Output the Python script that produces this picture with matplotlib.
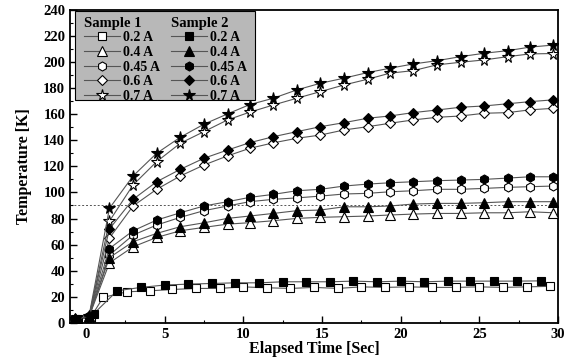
import numpy as np
import matplotlib
matplotlib.use("Agg")
import matplotlib.pyplot as plt
from matplotlib.patches import Rectangle

plt.rcParams['font.family'] = ['Liberation Serif', 'DejaVu Serif']
plt.rcParams['font.weight'] = 'bold'

# Data
t_main = [-0.7, 0.2, 1.5, 3.0, 4.5, 6.0, 7.5, 9.0, 10.4, 11.9, 13.4, 14.9,
          16.4, 17.9, 19.3, 20.8, 22.3, 23.8, 25.3, 26.8, 28.2, 29.7]
t_sq2 = [-0.5, 0.5, 2.0, 3.5, 5.0, 6.5, 8.0, 9.5, 11.0, 12.5, 14.0, 15.5,
         17.0, 18.5, 20.0, 21.5, 23.0, 24.4, 25.9, 27.4, 28.9]
t_sq1 = [-0.7, 0.3, 1.1, 2.6, 4.1, 5.5, 7.0, 8.5, 10.0, 11.5, 13.0, 14.5,
         16.0, 17.5, 19.0, 20.5, 22.0, 23.5, 25.0, 26.5, 28.0, 29.5]

s1_02 = [3, 4, 19.5, 23.8, 24.6, 25.6, 26.4, 26.4, 27.6, 26.9, 26.4, 27.2,
         26.4, 27.6, 27.2, 27.6, 27.2, 27.2, 27.6, 27.2, 27.6, 28.0]
s1_04 = [3, 4.5, 46, 58.3, 65.5, 70.6, 73.2, 75.7, 76.8, 78.3, 80.1, 80.9,
         81.4, 81.9, 82.7, 83.4, 83.9, 83.9, 84.4, 84.4, 85.2, 84.4]
s1_045 = [3, 4.5, 52, 67.3, 75, 80.9, 86, 89.6, 92.9, 94.7, 95.8, 97.2,
          98.8, 99.3, 100.5, 101.3, 102.4, 102.4, 103.1, 103.9, 104.4, 104.9]
s1_06 = [3, 4.5, 65, 89.6, 102.4, 112.6, 121, 128, 133.8, 138, 141.5, 144,
         147.9, 150.4, 153, 155.6, 157.6, 158.6, 160.7, 161.2, 163.3, 164.5]
s1_07 = [3, 4.5, 78, 105.7, 123.6, 137.7, 146.6, 155.6, 161.5, 167, 172.2, 177.3,
         182.4, 186.8, 191.4, 193.4, 197.8, 199.8, 201.6, 204.1, 206.2, 206.5]

s2_02 = [3, 7, 24.6, 27.2, 29.0, 29.7, 30.2, 30.7, 30.7, 31.5, 31.5,
         31.5, 32.0, 31.5, 32.0, 31.5, 32.0, 32.0, 32.0, 32.0, 32.2]
s2_04 = [3, 5, 50, 62.2, 68.6, 73.7, 76.7, 80.1, 81.9, 83.9, 86, 86.5,
         89, 89, 89.6, 91.1, 91.6, 91.6, 92.1, 92.9, 92.9, 92.9]
s2_045 = [3, 5, 57, 70.6, 78.8, 84.4, 89.6, 92.9, 96.2, 98.5, 101.3, 102.4,
          104.9, 106.4, 107.4, 108.2, 109, 109.5, 110, 111, 112, 112]
s2_06 = [3, 5, 72, 94.7, 108.2, 117.7, 126.2, 132.5, 138.1, 142.7, 146.6, 150.4,
         153.5, 156.9, 158.6, 161.2, 163.2, 165.3, 166.3, 168, 169.6, 171]
s2_07 = [3, 5, 87.8, 112.6, 130, 142.3, 152.3, 160.2, 167.3, 172.2, 178.6, 183.7,
         187.6, 191.9, 195.2, 198.5, 201, 204.1, 206.7, 208.7, 211.4, 213]

labels = ["0.2 A", "0.4 A", "0.45 A", "0.6 A", "0.7 A"]
markers = ["s", "^", "h", "D", "*"]
sizes = [5.5, 6.5, 6.5, 5.5, 8.5]

sample1 = [(t_sq1, s1_02), (t_main, s1_04), (t_main, s1_045), (t_main, s1_06), (t_main, s1_07)]
sample2 = [(t_sq2, s2_02), (t_main, s2_04), (t_main, s2_045), (t_main, s2_06), (t_main, s2_07)]

fig = plt.figure(figsize=(5.79, 3.64), dpi=100)
ax = fig.add_axes([0.121, 0.113, 0.843, 0.86])

ax.axhline(90, color='#555555', ls=(0, (2, 2)), lw=0.7, zorder=1)

h1, h2 = [], []
for (t, y), lab, m, ms in zip(sample1, labels, markers, sizes):
    l, = ax.plot(t, y, color='#555555', lw=0.8, marker=m, ms=ms,
                 mfc='white', mec='black', mew=0.8, label=lab, zorder=3)
    h1.append(l)
for (t, y), lab, m, ms in zip(sample2, labels, markers, sizes):
    l, = ax.plot(t, y, color='#555555', lw=0.8, marker=m, ms=ms,
                 mfc='black', mec='black', mew=0.8, label=lab, zorder=3)
    h2.append(l)

ax.set_xlim(-1, 29.85)
ax.set_ylim(0, 240)
ax.set_xticks(np.arange(0, 31, 5))
ax.set_xticks(np.arange(0, 30, 2.5), minor=True)
ax.set_yticks(np.arange(0, 241, 20))
ax.set_yticks(np.arange(0, 241, 10), minor=True)
ax.tick_params(which='both', direction='in', labelsize=10.5)
ax.tick_params(which='major', length=5, width=1)
ax.tick_params(which='minor', length=2.5, width=0.8)
for sp in ax.spines.values():
    sp.set_linewidth(1.3)

ax.set_xlabel("Elapsed Time [Sec]", fontsize=11.5, fontweight='bold', labelpad=0)
ax.set_ylabel("Temperature [K]", fontsize=11.5, fontweight='bold', labelpad=8)

# gray legend box
ax.add_patch(Rectangle((0.01, 0.712), 0.369, 0.283, transform=ax.transAxes,
                       facecolor='#b8b8b8', edgecolor='black', lw=0.8, zorder=4))
leg_kw = dict(frameon=False, fontsize=10, handlelength=2.6, handletextpad=0.2,
              labelspacing=0.12, borderpad=0.1, alignment='left',
              title_fontproperties={'weight': 'bold', 'size': 10.5})
leg1 = ax.legend(handles=h1, title="Sample 1", loc='upper left',
                 bbox_to_anchor=(0.012, 1.005), **leg_kw)
leg1.set_zorder(5)
ax.add_artist(leg1)
leg2 = ax.legend(handles=h2, title="Sample 2", loc='upper left',
                 bbox_to_anchor=(0.19, 1.005), **leg_kw)
leg2.set_zorder(5)

fig.savefig("out.png", dpi=100)
